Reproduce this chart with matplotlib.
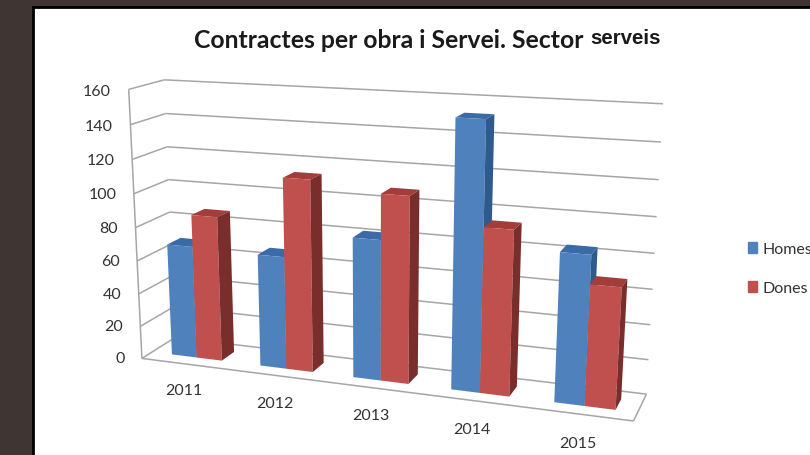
import numpy as np
import matplotlib
matplotlib.use("Agg")
import matplotlib.pyplot as plt
from matplotlib.patches import Patch, Rectangle
from mpl_toolkits.mplot3d import Axes3D  # noqa: F401
from mpl_toolkits.mplot3d.art3d import Line3DCollection

years = ['2011', '2012', '2013', '2014', '2015']
homes = [68, 67, 82, 152, 84]
dones = [87, 113, 108, 94, 68]
z_ticks = [0, 20, 40, 60, 80, 100, 120, 140, 160]

# where the corners of the chart box fall in the picture (pixels)
box_world = [(0, 0, 0), (0, 0, 160), (0, 1, 0), (0, 1, 160), (5, 1, 0), (5, 1, 160), (5, 0, 0)]
box_pixel = [(143, 358), (128, 90), (174, 340), (165, 81), (647, 393), (663, 105), (633, 424)]


def fit_projection(world, pixel):
    rows = []
    for (x, y, z), (u, v) in zip(world, pixel):
        rows.append([x, y, z, 1, 0, 0, 0, 0, -u * x, -u * y, -u * z, -u])
        rows.append([0, 0, 0, 0, x, y, z, 1, -v * x, -v * y, -v * z, -v])
    p = np.linalg.svd(np.array(rows, dtype=float))[2][-1].reshape(3, 4)
    p = p / p[2, 3]
    return np.array([p[0], p[1], [0, 0, 1, 0], p[2]])


fig = plt.figure(figsize=(8.1, 4.56), dpi=100, facecolor='#3f3533')
fig.add_artist(Rectangle((33 / 810, -0.1), 1, 1.1 - 8 / 456, transform=fig.transFigure,
                         facecolor='white', edgecolor='black', linewidth=2, zorder=-1))

ax = fig.add_axes([0, (456 - 810) / 2 / 456, 1, 810 / 456], projection='3d', computed_zorder=False)
ax.set_axis_off()
ax.patch.set_visible(False)
ax.set_xticks([])
ax.set_yticks([])
ax.set_zticks([])
M = fit_projection(box_world, box_pixel)
ax.get_proj = lambda: M
ax.viewLim.intervalx = (0, 810)
ax.viewLim.intervaly = (633, -177)

segments = [[(0, 0, 0), (0, 0, 160)], [(0, 0, 0), (5, 0, 0)], [(5, 0, 0), (5, 1, 0)]]
for z in z_ticks:
    segments.append([(0, 0, z), (0, 1, z)])
    segments.append([(0, 1, z), (5, 1, z)])
    ax.text(-0.2, 0, z - 1.2, str(z), ha='right', va='center', fontsize=11.5, family='Lato', color='#333333')
ax.add_collection3d(Line3DCollection(segments, colors='#a6a6a6', linewidths=1.1, zorder=1))

clear = (0, 0, 0, 0)
width = 0.285
depth = 0.4
start = 0.23
for i in range(len(years)):
    # faces: bottom, top, front, back, left, right
    ax.bar3d(i + start, 0.3, 0, width, depth, homes[i], shade=False, linewidth=0, zorder=2 + 2 * i,
             color=[clear, '#3a6ba6', '#4f81bd', clear, clear, '#2f5a8e'])
    ax.bar3d(i + start + width, 0.3, 0, width, depth, dones[i], shade=False, linewidth=0, zorder=3 + 2 * i,
             color=[clear, '#a33d3a', '#c0504d', clear, clear, '#7a2e2c'])
    ax.text(i + 0.53, -0.15, -14, years[i], ha='center', va='center', fontsize=11.5, family='Lato', color='#333333')

fig.text(194 / 810, 1 - 40 / 456, 'Contractes per obra i Servei. Sector', ha='left', va='center',
         fontsize=17.8, fontweight='bold', family='Lato', color='#1a1a1a')
fig.text(590 / 810, 1 - 39 / 456, 'serveis', ha='left', va='center',
         fontsize=14.8, fontweight='bold', family='Liberation Sans', color='#1a1a1a')

handles = [Patch(color='#4f81bd'), Patch(color='#c0504d')]
fig.legend(handles, ['Homes', 'Dones'], loc='upper left', bbox_to_anchor=(743 / 810, 1 - 238 / 456),
           frameon=False, handlelength=0.55, handleheight=0.65, handletextpad=0.35,
           labelspacing=1.6, borderpad=0.3, borderaxespad=0,
           prop={'family': 'Lato', 'size': 11.5}, labelcolor='#333333')

fig.savefig('out.png', dpi=100, facecolor=fig.get_facecolor())
